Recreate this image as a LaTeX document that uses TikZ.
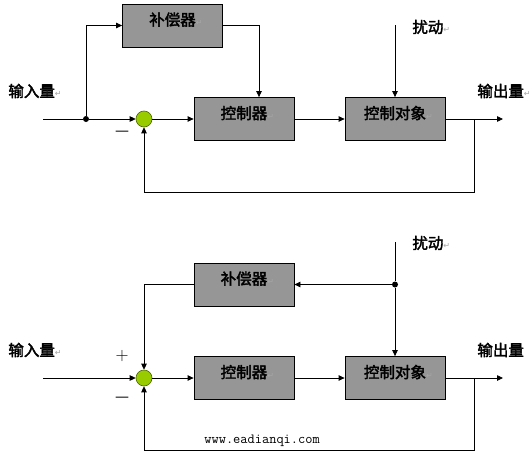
\documentclass[tikz,border=0pt]{standalone}
\usepackage{fontspec}
\newfontfamily\cjk[FakeBold=2.4]{Noto Sans CJK SC}
\newfontfamily\dv{DejaVu Sans}
\usetikzlibrary{arrows.meta}
\definecolor{boxgray}{HTML}{969696}
\definecolor{sumgreen}{HTML}{99CC00}
\definecolor{sumedge}{HTML}{4D6600}
\newcommand\retmark{{\dv\fontsize{8}{8}\selectfont\color{black!35}↵}}
\begin{document}
\begin{tikzpicture}[x=1pt,y=-1pt,
  blk/.style={draw=black, fill=boxgray, line width=0.8pt, minimum width=100pt, minimum height=43pt, inner sep=0pt, text height=0pt, text depth=0pt, font=\cjk\fontsize{15.5}{15.5}\selectfont},
  lbl/.style={anchor=west, inner sep=0pt, font=\cjk\fontsize{15.5}{15.5}\selectfont},
  sign/.style={inner sep=0pt, font=\fontsize{18}{18}\selectfont},
  dashsign/.style={inner sep=0pt, font=\dv\fontsize{14}{14}\selectfont},
  sum/.style={circle, draw=sumedge, fill=sumgreen, line width=0.6pt, minimum size=16pt, inner sep=0pt},
  jdot/.style={circle, fill=black, minimum size=6pt, inner sep=0pt},
  arr/.style={-{Triangle[length=6pt,width=5.5pt]}},
  line width=0.8pt]
\useasboundingbox (0,0) rectangle (532,455);

% ---------- top diagram ----------
\node[blk] (comp1) at (172.5,25.5) {补偿器\rlap{\retmark}};
\node[blk] (ctrl1) at (244,119) {控制器\rlap{\retmark}};
\node[blk] (plant1) at (395,119) {控制对象\rlap{\retmark}};
\node[sum] (s1) at (144,119) {};
\node[jdot] (d1) at (86,119) {};
\coordinate (in1) at (43,119);
\coordinate (dist1) at (395,25);
\coordinate (fb1) at (474,119);
\coordinate (fbc1) at (474,192);
\coordinate (out1) at (503,119);

\draw (in1) -- (d1);
\draw[arr] (d1) -- (s1);
\draw[arr] (d1) |- (comp1.west);
\draw[arr] (comp1.east) -| ([xshift=15pt]ctrl1.north);
\draw[arr] (s1) -- (ctrl1);
\draw[arr] (ctrl1) -- (plant1);
\draw[arr] (dist1) -- (plant1);
\draw[arr] (plant1) -- (out1);
\draw[arr] (fb1) -- (fbc1) -| (s1.south);

\node[lbl] (inlbl1) at (8,91) {输入量\retmark};
\node[lbl] (outlbl1) at (477,91) {输出量\retmark};
\node[lbl] (distlbl1) at (412,27) {扰动\retmark};
\node[dashsign] (minus1) at (122,133) {—};

% ---------- bottom diagram ----------
\node[blk] (comp2) at (244,284.5) {补偿器\rlap{\retmark}};
\node[blk] (ctrl2) at (244,378) {控制器\rlap{\retmark}};
\node[blk] (plant2) at (395,378) {控制对象\rlap{\retmark}};
\node[sum] (s2) at (144,378) {};
\node[jdot] (d2) at (395,284.5) {};
\coordinate (in2) at (43,378);
\coordinate (dist2) at (395,242);
\coordinate (fb2) at (474,378);
\coordinate (fbc2) at (474,450);
\coordinate (out2) at (503,378);

\draw[arr] (in2) -- (s2);
\draw[arr] (comp2.west) -| (s2.north);
\draw (dist2) -- (d2);
\draw[arr] (d2) -- (plant2);
\draw[arr] (d2) -- (comp2);
\draw[arr] (s2) -- (ctrl2);
\draw[arr] (ctrl2) -- (plant2);
\draw[arr] (plant2) -- (out2);
\draw[arr] (fb2) -- (fbc2) -| (s2.south);

\node[lbl] (inlbl2) at (8,350) {输入量\retmark};
\node[lbl] (outlbl2) at (477,350) {输出量};
\node[lbl] (distlbl2) at (412,243) {扰动\retmark};
\node[sign] (plus2) at (122,356) {+};
\node[dashsign] (minus2) at (122,399) {—};
\node[anchor=base west, inner sep=0pt, font=\ttfamily\fontsize{14}{14}\selectfont] (url) at (204,443) {www.eadianqi.com};
\end{tikzpicture}
\end{document}
